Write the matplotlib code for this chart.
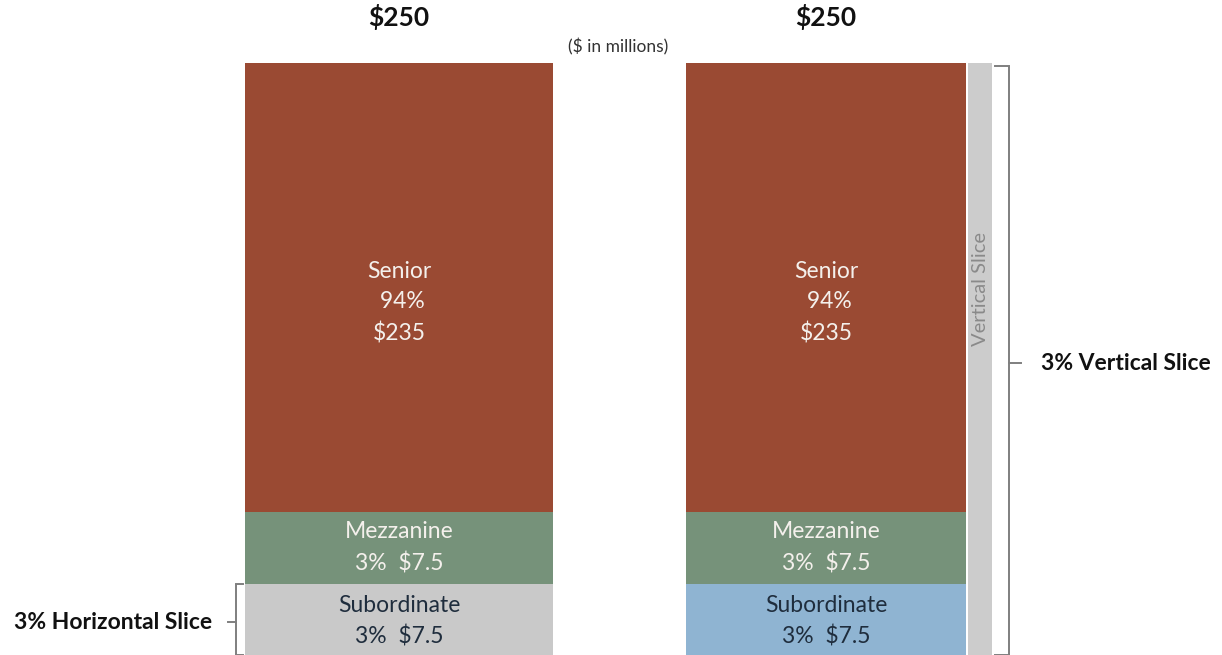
import numpy as np
import matplotlib.pyplot as plt

plt.rcParams['font.family'] = ['Lato', 'DejaVu Sans']

# Tranche data ($ in millions)
tranches = ['Senior', 'Mezzanine', 'Subordinate']
amounts = [235, 7.5, 7.5]
shares = ['94%', '3%', '3%']
total = 250
slice_share = '3%'

left_colors = ['#9a4a33', '#76927a', '#c9c9c9']
right_colors = ['#9a4a33', '#76927a', '#8fb4d2']
label_colors = ['#f4f0ec', '#f4f0ec', '#1f2d3d']

W, H = 1222, 655
fig = plt.figure(figsize=(W / 100, H / 100), dpi=100)
top_px = 63
ax = fig.add_axes([0, 0, 1, 1 - top_px / H])

# Stretch the thin tranches so their labels fit: lower 15 linear, rest compressed
cut = amounts[1] + amounts[2]
k1 = 143 / cut
k2 = (592 - 143) / (total - cut)


def fwd(v):
    v = np.asarray(v, dtype=float)
    return np.where(v <= cut, v * k1, cut * k1 + (v - cut) * k2)


def inv(p):
    p = np.asarray(p, dtype=float)
    return np.where(p <= cut * k1, p / k1, cut + (p - cut * k1) / k2)


ax.set_yscale('function', functions=(fwd, inv))
ax.set_xlim(0, W)
ax.set_ylim(0, total)
ax.axis('off')

# stack from the bottom: subordinate, mezzanine, senior
order = [2, 1, 0]
bottoms = np.concatenate([[0], np.cumsum([amounts[i] for i in order])[:-1]])
nudge = {0: -15, 1: 0, 2: -2}   # label shift in pixels


def draw_stack(x0, width, colors):
    for b, i in zip(bottoms, order):
        ax.bar(x0, amounts[i], width=width, bottom=b, align='edge',
               color=colors[i], linewidth=0)
        cx = x0 + width / 2
        mid = float(inv((fwd(b) + fwd(b + amounts[i])) / 2 + nudge[i]))
        if i == 0:
            txt = f'{tranches[i]}\n {shares[i]}\n${amounts[i]:g}'
        else:
            txt = f'{tranches[i]}\n{shares[i]}  ${amounts[i]:g}'
        ax.text(cx, mid, txt, ha='center', va='center', fontsize=16.5,
                color=label_colors[i], linespacing=1.55)


draw_stack(245, 308, left_colors)
draw_stack(686, 280, right_colors)

# vertical slice strip
ax.bar(968, total, width=24, align='edge', color='#cccccc', linewidth=0)
ax.text(980, float(inv(fwd(total) - 226)), 'Vertical Slice', rotation=90,
        ha='center', va='center', fontsize=14.5, color='#8a8a8a')


def bracket(x, lo, hi, tick_dir, arm, label, label_x, ha):
    c = '#7f7f7f'
    ax.plot([x, x], [lo, hi], color=c, lw=1.4, solid_capstyle='butt')
    ax.plot([x, x + arm], [lo, lo], color=c, lw=1.4)
    ax.plot([x, x + arm], [hi, hi], color=c, lw=1.4)
    mid = float(inv((fwd(lo) + fwd(hi)) / 2 - 3))
    ax.plot([x, x + tick_dir], [mid, mid], color=c, lw=1.4)
    ax.text(label_x, mid, label, ha=ha, va='center', fontsize=16.5,
            fontweight='bold', color='#111111')


bracket(236, 0.05, amounts[2], -8, 7, f'{slice_share} Horizontal Slice', 212, 'right')
bracket(1009, 0.05, float(inv(fwd(total) - 3)), 12, -14,
        f'{slice_share} Vertical Slice', 1041, 'left')

# totals and units
for cx in (399, 826):
    fig.text(cx / W, 1 - 17 / H, f'${total}', ha='center', va='center',
             fontsize=19, fontweight='bold', color='#111111')
fig.text(618 / W, 1 - 47 / H, '($ in millions)', ha='center', va='center',
         fontsize=12.5, color='#333333')

fig.savefig('out.png', dpi=100)
